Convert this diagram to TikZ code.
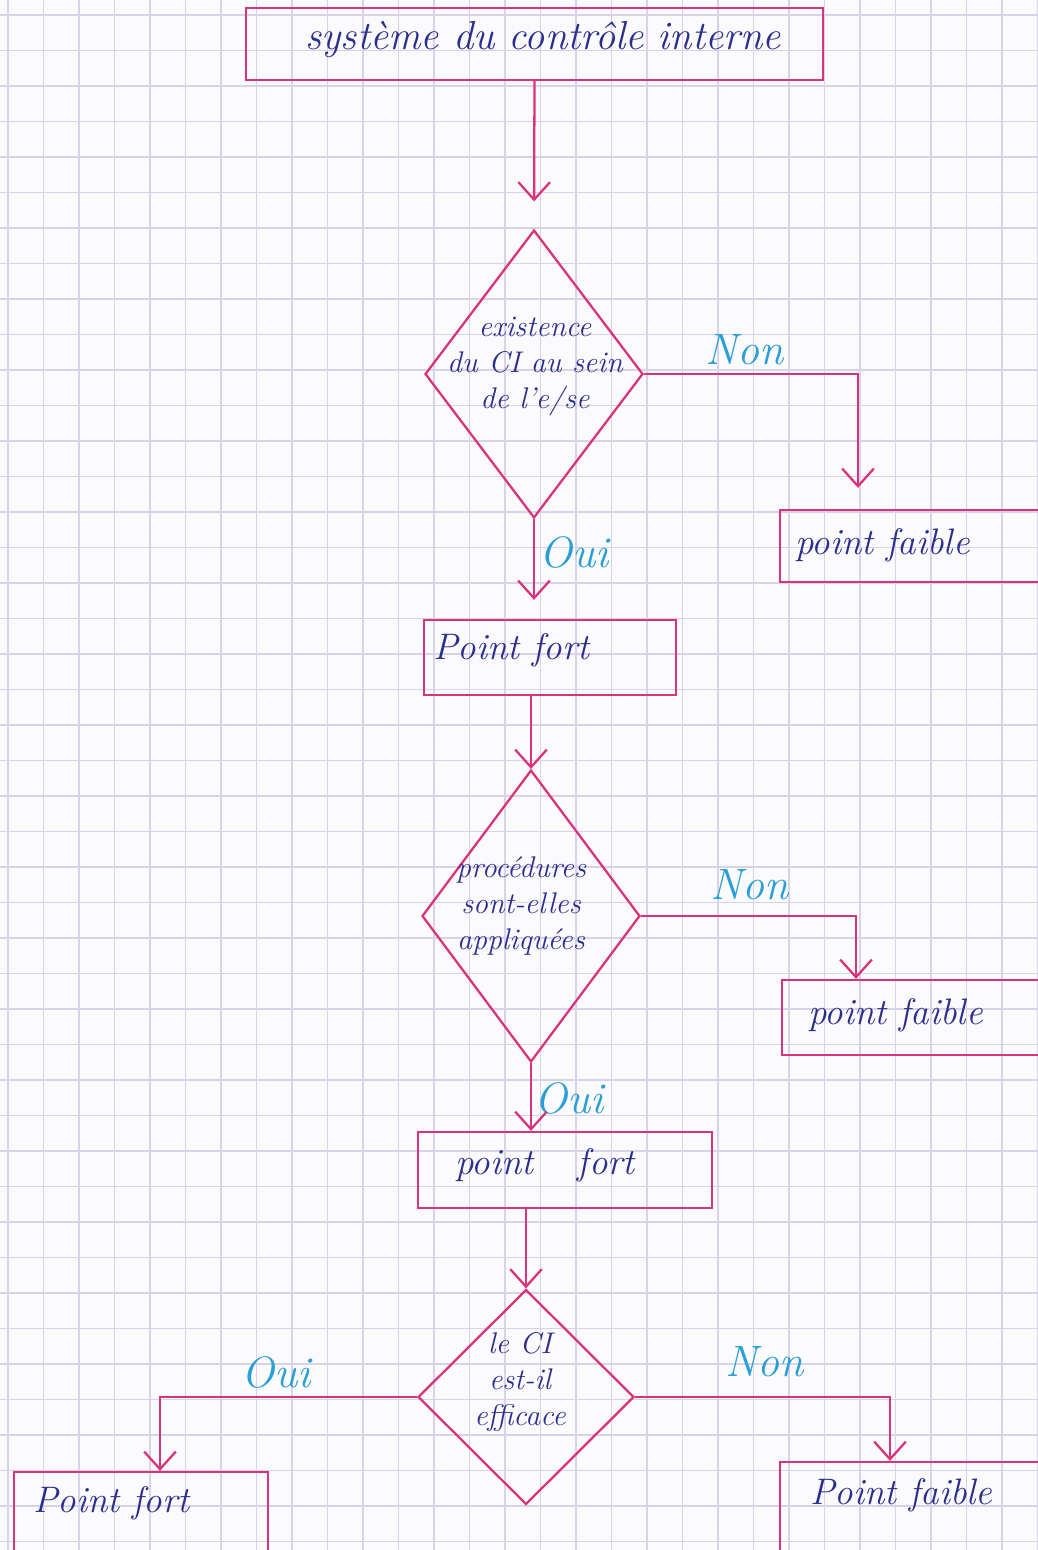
\documentclass[tikz,border=0pt]{standalone}
\usetikzlibrary{arrows.meta,shapes.geometric,calc}
\definecolor{pinkline}{HTML}{D8347C}
\definecolor{inkblue}{HTML}{2B2E8C}
\definecolor{inkcyan}{HTML}{2A9ED6}
\definecolor{gridc}{HTML}{D9D3EA}
\definecolor{paper}{HTML}{FBFAFD}
\tikzset{
  conn/.style={draw=pinkline, line width=1.3pt},
  arr/.style={conn, -{Straight Barb[length=10pt,width=18pt,line width=1.3pt]}},
  box/.style={draw=pinkline, line width=1.3pt, rectangle, inner sep=0pt},
  dia/.style={draw=pinkline, line width=1.3pt, diamond, inner sep=0pt},
  txt/.style={text=inkblue, font=\itshape\fontsize{21}{24}\selectfont, inner sep=0pt},
  dtxt/.style={text=inkblue, font=\itshape\fontsize{17}{20.5}\selectfont, align=center, inner sep=0pt},
  lab/.style={text=inkcyan, font=\itshape\fontsize{25}{28}\selectfont, inner sep=0pt}
}
\begin{document}
\begin{tikzpicture}[x=0.02cm,y=-0.02cm]
\useasboundingbox (0,0) rectangle (1037,1550);
\fill[paper] (0,0) rectangle (1037,1550);
\foreach \i in {0,...,29} {\draw[gridc, line width=0.6pt] (8+35.5*\i,0) -- (8+35.5*\i,1550);}
\foreach \j in {0,...,43} {\draw[gridc, line width=0.6pt] (0,15+35.5*\j) -- (1037,15+35.5*\j);}

% nodes
\node[box, minimum width=11.54cm, minimum height=1.44cm] (T) at (534.5,44) {};
\node[txt, font=\itshape\fontsize{23}{26}\selectfont] (Tt) at (543,40) {système du contrôle interne};

\node[dia, minimum width=4.36cm, minimum height=5.76cm] (D1) at (534,374) {};
\node[dtxt] (D1t) at (535,367) {existence\\du CI au sein\\de l'e/se};

\node[box, minimum width=5.3cm, minimum height=1.44cm] (PF1) at (912.5,546) {};
\node[txt, anchor=west] (PF1t) at (795,545) {point faible};

\node[box, minimum width=5.04cm, minimum height=1.5cm] (F1) at (550,657.5) {};
\node[txt, anchor=west] (F1t) at (433,650) {Point fort};

\node[dia, minimum width=4.36cm, minimum height=5.84cm] (D2) at (531,916) {};
\node[dtxt] (D2t) at (521,906) {procédures\\sont-elles\\appliquées};

\node[box, minimum width=5.26cm, minimum height=1.5cm] (PF2) at (913.5,1017.5) {};
\node[txt, anchor=west] (PF2t) at (808,1015) {point faible};

\node[box, minimum width=5.88cm, minimum height=1.52cm] (F2) at (565,1170) {};
\node[txt] (F2t) at (545,1165) {point\hspace{1.2em}fort};

\node[dia, minimum width=4.32cm, minimum height=4.3cm] (D3) at (526,1397) {};
\node[dtxt] (D3t) at (520,1382) {le CI\\est-il\\efficace};

\node[box, minimum width=5.08cm, minimum height=1.76cm] (F3) at (141,1516) {};
\node[txt, anchor=west] (F3t) at (33,1503) {Point fort};

\node[box, minimum width=5.3cm, minimum height=1.96cm] (PF3) at (912.5,1511) {};
\node[txt, anchor=west] (PF3t) at (810,1495) {Point faible};

% labels
\node[lab] (N1) at (745,350) {Non};
\node[lab] (O1) at (574,552) {Oui};
\node[lab] (N2) at (750,885) {Non};
\node[lab] (O2) at (569,1098) {Oui};
\node[lab] (O3) at (276,1372) {Oui};
\node[lab] (N3) at (765,1362) {Non};

% connectors
\draw[arr, shorten >=0.55cm] (T.south) -- (D1.north);
\draw[arr, shorten >=0.42cm] (D1.east) -| ([xshift=-1.09cm]PF1.north);
\draw[arr, shorten >=0.38cm] (D1.south) -- (D1.south |- F1.north);
\draw[arr] (D2.north |- F1.south) -- (D2.north);
\draw[arr] (D2.east) -| ([xshift=-1.15cm]PF2.north);
\draw[arr] (D2.south) -- (D2.south |- F2.north);
\draw[arr] (D3.north |- F2.south) -- (D3.north);
\draw[arr] (D3.west) -| ([xshift=0.38cm]F3.north);
\draw[arr] (D3.east) -| ([xshift=-0.45cm]PF3.north);
\end{tikzpicture}
\end{document}
